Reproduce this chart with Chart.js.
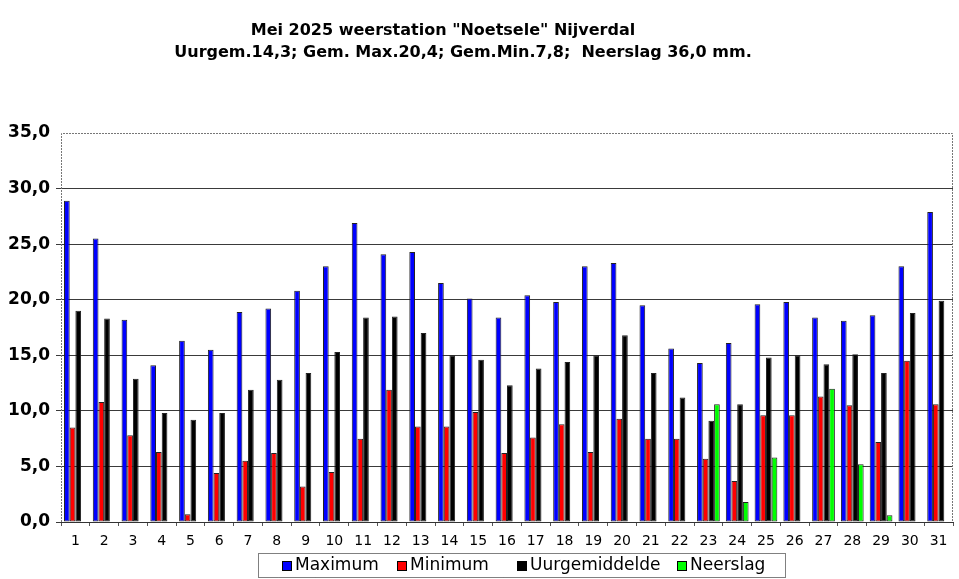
<html><head>
<meta charset="UTF-8">
<title>Mei 2025 weerstation Noetsele</title>
<script src="https://cdn.jsdelivr.net/npm/chart.js"></script>
<style>
body {
  margin: 0;
  background: #ffffff;
}
.wrap {
  position: relative;
  width: 959px;
  height: 579px;
}
</style>
</head>
<body>

<div class="wrap">
  <canvas id="chart" width="959" height="579"></canvas>
</div>

<script>
const titleLines = [
  'Mei 2025 weerstation "Noetsele" Nijverdal',
  'Uurgem.14,3; Gem. Max.20,4; Gem.Min.7,8;  Neerslag 36,0 mm.'
];

const days = ['1','2','3','4','5','6','7','8','9','10','11','12','13','14','15','16',
  '17','18','19','20','21','22','23','24','25','26','27','28','29','30','31'];

const maximum = [28.9, 25.5, 18.2, 14.1, 16.3, 15.5, 18.9, 19.2, 20.8, 23.0,
  26.9, 24.1, 24.3, 21.5, 20.1, 18.4, 20.4, 19.8, 23.0, 23.3,
  19.5, 15.6, 14.3, 16.1, 19.6, 19.8, 18.4, 18.1, 18.6, 23.0, 27.9];

const minimum = [8.5, 10.8, 7.8, 6.3, 0.7, 4.4, 5.5, 6.2, 3.2, 4.5,
  7.5, 11.9, 8.6, 8.6, 9.9, 6.2, 7.6, 8.8, 6.3, 9.3,
  7.5, 7.5, 5.7, 3.7, 9.6, 9.6, 11.3, 10.5, 7.2, 14.5, 10.6];

const uurgemiddelde = [19.0, 18.3, 12.9, 9.8, 9.2, 9.8, 11.9, 12.8, 13.4, 15.3,
  18.4, 18.5, 17.0, 15.0, 14.6, 12.3, 13.8, 14.4, 15.0, 16.8,
  13.4, 11.2, 9.1, 10.6, 14.8, 15.0, 14.2, 15.1, 13.4, 18.8, 19.9];

const neerslag = [null, null, null, null, null, null, null, null, null, null,
  null, null, null, null, null, null, null, null, null, null,
  null, null, 10.6, 1.8, 5.8, null, 12.0, 5.2, 0.6, null, null];

const seriesNames = ['Maximum', 'Minimum', 'Uurgemiddelde', 'Neerslag'];
const seriesColors = ['#0000ff', '#ff0000', '#000000', '#00ff00'];
const yTicks = [0, 5, 10, 15, 20, 25, 30, 35];

const fmt = (v) => v.toFixed(1).replace('.', ',');

// title, plot frame and the boxed legend are drawn by hand
const extras = {
  id: 'extras',
  afterDraw(chart) {
    const ctx = chart.ctx;
    const a = chart.chartArea;
    ctx.save();

    // title
    ctx.fillStyle = '#000';
    ctx.font = 'bold 16px "DejaVu Sans", Verdana, sans-serif';
    ctx.textAlign = 'center';
    ctx.textBaseline = 'middle';
    ctx.fillText(titleLines[0], 443, 31);
    ctx.fillText(titleLines[1], 463, 53);

    // plot frame (left, top, right) dotted grey
    ctx.strokeStyle = '#777';
    ctx.lineWidth = 1;
    ctx.setLineDash([2, 1]);
    ctx.beginPath();
    ctx.moveTo(a.left + 0.5, a.bottom);
    ctx.lineTo(a.left + 0.5, a.top + 0.5);
    ctx.lineTo(a.right - 0.5, a.top + 0.5);
    ctx.lineTo(a.right - 0.5, a.bottom);
    ctx.stroke();

    // legend
    const lx = 258, ly = 553, lw = 527, lh = 24;
    ctx.strokeStyle = '#000';
    ctx.setLineDash([1, 1]);
    ctx.strokeRect(lx + 0.5, ly + 0.5, lw, lh);
    ctx.setLineDash([]);
    ctx.font = '17px "DejaVu Sans", Verdana, sans-serif';
    ctx.textAlign = 'left';
    ctx.textBaseline = 'middle';
    const starts = [282, 397, 517, 677];
    chart.data.datasets.forEach((ds, i) => {
      const x = starts[i];
      const y = ly + lh / 2 + 1;
      ctx.fillStyle = ds.backgroundColor;
      ctx.fillRect(x, y - 5, 10, 10);
      ctx.strokeStyle = '#000';
      ctx.strokeRect(x + 0.5, y - 4.5, 9, 9);
      ctx.fillStyle = '#000';
      ctx.fillText(ds.label, x + 13, y);
    });
    ctx.restore();
  }
};

const series = [maximum, minimum, uurgemiddelde, neerslag];

new Chart(document.getElementById('chart'), {
  type: 'bar',
  data: {
    labels: days,
    datasets: series.map((vals, i) => ({
      label: seriesNames[i],
      data: vals,
      backgroundColor: seriesColors[i],
      borderColor: '#222222',
      borderWidth: 1,
      borderSkipped: false,
      categoryPercentage: 0.79,
      barPercentage: 1.0
    }))
  },
  options: {
    responsive: false,
    animation: false,
    layout: {
      padding: { top: 133, right: 6, bottom: 27, left: 0 }
    },
    plugins: {
      legend: { display: false },
      title: { display: false },
      tooltip: { enabled: false }
    },
    scales: {
      x: {
        grid: {
          display: true,
          drawOnChartArea: false,
          drawTicks: true,
          tickLength: 4,
          offset: true,
          color: '#555'
        },
        border: { display: true, color: '#333', width: 1 },
        ticks: {
          color: '#000',
          font: { family: '"DejaVu Sans", Verdana, sans-serif', size: 14 },
          padding: 7,
          maxRotation: 0,
          autoSkip: false
        },
        afterFit(scale) { scale.height = 30; }
      },
      y: {
        min: 0,
        max: 35,
        afterBuildTicks(scale) {
          scale.ticks = yTicks.map(v => ({ value: v }));
        },
        grid: {
          color: (c) => c.tick && c.tick.value === 35 ? 'rgba(0,0,0,0)' : '#3a3a3a',
          lineWidth: 1,
          tickLength: 5,
          drawTicks: true
        },
        border: { display: false },
        ticks: {
          color: '#000',
          font: { family: '"DejaVu Sans", Verdana, sans-serif', size: 17, weight: 'bold' },
          padding: 6,
          callback: (v) => fmt(v)
        },
        afterFit(scale) { scale.width = 61; }
      }
    }
  },
  plugins: [extras]
});
</script>

</body></html>
